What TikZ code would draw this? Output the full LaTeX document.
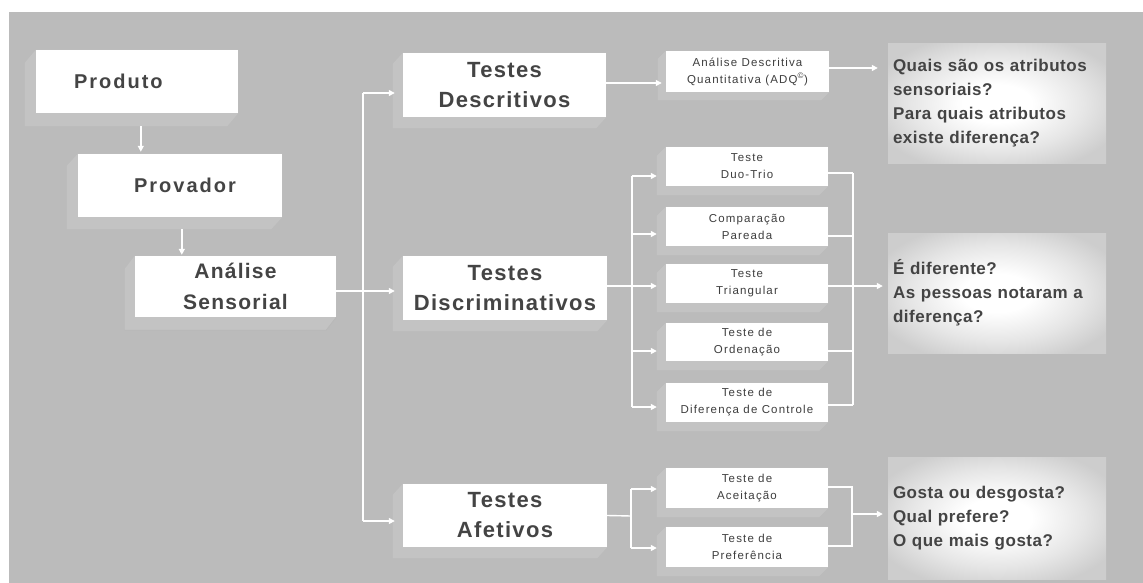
\documentclass[tikz,border=0pt]{standalone}
\usepackage{fontspec}
\setmainfont{Liberation Sans}
\newfontfamily\titlefA[LetterSpace=10]{Liberation Sans}
\newfontfamily\titlefB[LetterSpace=6]{Liberation Sans}
\newfontfamily\smallf[LetterSpace=10]{Liberation Sans}
\newfontfamily\questf[LetterSpace=3]{Liberation Sans}
\usetikzlibrary{arrows.meta,calc}
\definecolor{bgc}{HTML}{BBBBBB}
\definecolor{shadowc}{HTML}{C3C3C3}
\definecolor{txtc}{HTML}{444444}
\definecolor{smtxt}{HTML}{3E3E3E}
\definecolor{qmid}{HTML}{E6E6E6}
\definecolor{qedge}{HTML}{CDCDCD}
\pgfdeclareradialshading{qshade}{\pgfpoint{0bp}{0bp}}{%
  color(0bp)=(white); color(8bp)=(white); color(20bp)=(qmid);
  color(30bp)=(qedge); color(50bp)=(qedge)}
\pgfdeclarelayer{back}
\pgfdeclarelayer{mid}
\pgfsetlayers{back,mid,main}
\newcommand\boxshadow[3]{%
  \begin{pgfonlayer}{mid}
  \fill[shadowc] (#1.north west) -- ++(-#2,#3)
     -- ([xshift=-#2pt,yshift=-#3pt]#1.south west)
     -- ([xshift=-#2pt,yshift=-#3pt]#1.south east)
     -- (#1.south east) -- (#1.north east) -- cycle;
  \end{pgfonlayer}}
\tikzset{
  bigbox/.style={fill=white, draw=none, inner sep=0pt, align=center,
    text=txtc, font=\titlefB\bfseries\fontsize{22}{30}\selectfont},
  smallbox/.style={fill=white, draw=none, inner sep=0pt, align=center,
    text=smtxt, font=\smallf\fontsize{11.5}{17}\selectfont,
    minimum width=162pt},
  qbox/.style={shade, shading=qshade,
    draw=none, inner xsep=5pt, inner ysep=0pt, text width=208pt, align=left,
    minimum width=218pt, text=txtc,
    font=\questf\bfseries\fontsize{17}{24}\selectfont},
  ln/.style={draw=white, line width=1.4pt},
  arr/.style={draw=white, line width=1.4pt, -{Triangle[length=6pt,width=6pt]}}
}
\begin{document}
\begin{tikzpicture}[x=1pt,y=-1pt]
\useasboundingbox (0,0) rectangle (1143,583);
\begin{pgfonlayer}{back}
\fill[white] (0,0) rectangle (1143,583);
\fill[bgc] (9,12) rectangle (1143,583);
\end{pgfonlayer}

% main column
\node[bigbox, font=\titlefA\bfseries\fontsize{20}{28}\selectfont,
  text width=126pt, inner xsep=38pt, align=left, minimum height=63pt]
  (pr) at (137,81.5) {Produto};
\node[bigbox, font=\titlefA\bfseries\fontsize{20}{28}\selectfont,
  minimum width=204pt, minimum height=63pt] (pv) at (180,185.5) {\hspace*{10pt}Provador};
\node[bigbox, font=\titlefB\bfseries\fontsize{21}{31}\selectfont,
  minimum width=201pt, minimum height=61pt] (as) at (235.5,286.5) {Análise\\Sensorial};

% tests
\node[bigbox, minimum width=203pt, minimum height=64pt] (td) at (504.5,85) {Testes\\Descritivos};
\node[bigbox, minimum width=204pt, minimum height=64pt] (tdi) at (505,288) {Testes\\Discriminativos};
\node[bigbox, minimum width=204pt, minimum height=63pt] (ta) at (505,515.5) {Testes\\Afetivos};

% sub boxes
\node[smallbox, minimum width=163pt, minimum height=41pt] (adq) at (747.5,71.5)
  {Análise Descritiva\\Quantitativa (ADQ\textsuperscript{©})};
\node[smallbox, minimum height=39pt] (d1) at (747,166.5) {Teste\\Duo-Trio};
\node[smallbox, minimum height=39pt] (d2) at (747,226.5) {Comparação\\Pareada};
\node[smallbox, minimum height=39pt] (d3) at (747,283.5) {Teste\\Triangular};
\node[smallbox, minimum height=38pt] (d4) at (747,342) {Teste de\\Ordenação};
\node[smallbox, minimum height=39pt] (d5) at (747,402.5) {Teste de\\Diferença de Controle};
\node[smallbox, minimum height=40pt] (a1) at (747,488) {Teste de\\Aceitação};
\node[smallbox, minimum height=40pt] (a2) at (747,547) {Teste de\\Preferência};

% question boxes
\node[qbox, minimum height=119pt] (q1) at (997,103.5)
  {Quais são os atributos\\sensoriais?\\Para quais atributos\\existe diferença?};
\node[qbox, minimum height=120pt] (q2) at (997,293)
  {É diferente?\\As pessoas notaram a\\diferença?};
\node[qbox, minimum height=122pt] (q3) at (997,518)
  {Gosta ou desgosta?\\Qual prefere?\\O que mais gosta?};

% shadows
\boxshadow{pr}{11}{13}
\boxshadow{pv}{11}{12}
\boxshadow{as}{10}{13}
\boxshadow{td}{10}{11}
\boxshadow{tdi}{10}{11}
\boxshadow{ta}{10}{11}
\boxshadow{adq}{8}{8}
\boxshadow{d1}{9}{9}
\boxshadow{d2}{9}{9}
\boxshadow{d3}{9}{9}
\boxshadow{d4}{9}{9}
\boxshadow{d5}{9}{9}
\boxshadow{a1}{9}{9}
\boxshadow{a2}{9}{9}
\begin{pgfonlayer}{mid}
\draw[draw=black!28, line width=0.8pt] ([xshift=-10pt,yshift=-13pt]as.south west) -- ([xshift=-10pt,yshift=-13pt]as.south east) -- (as.south east);
\end{pgfonlayer}

% coordinates of buses
\coordinate (tA) at (363,93);
\coordinate (tB) at (363,291);
\coordinate (tC) at (363,521);
\coordinate (lb1) at (632,176);
\coordinate (lb2) at (632,234);
\coordinate (lb3) at (632,286);
\coordinate (lb4) at (632,351);
\coordinate (lb5) at (632,407);
\coordinate (rb1) at (853,173);
\coordinate (rb2) at (853,236);
\coordinate (rb3) at (853,286);
\coordinate (rb4) at (853,351);
\coordinate (rb5) at (853,405);
\coordinate (la0) at (631,516);
\coordinate (la1) at (631,489);
\coordinate (la2) at (631,548);
\coordinate (ra0) at (852,514);
\coordinate (ra1) at (852,487);
\coordinate (ra2) at (852,546);

% connectors: main column
\draw[arr, shorten >=2pt] ([xshift=105pt,yshift=-13pt]pr.south west) -- ([xshift=63pt]pv.north west);
\draw[arr, shorten >=1pt] ([xshift=104pt,yshift=-12pt]pv.south west) -- ([xshift=47pt]as.north west);
\draw[ln] ([yshift=-4.5pt]as.east) -- (tB);
\draw[ln] (tA) -- (tC);
\draw[arr, shorten >=8pt] (tA) -- (tA -| td.west);
\draw[arr, shorten >=8pt] (tB) -- (tB -| tdi.west);
\draw[arr, shorten >=8pt] (tC) -- (tC -| ta.west);

% descriptive
\draw[arr, shorten >=4pt] ([yshift=2pt]td.east) -- ([yshift=2pt]td.east -| adq.west);
\draw[arr, shorten >=10pt] ([yshift=3.5pt]adq.east) -- ([yshift=3.5pt]adq.east -| q1.west);

% discriminative
\draw[ln] ([yshift=2pt]tdi.east) -- (lb3);
\draw[ln] (lb1) -- (lb5);
\draw[arr, shorten >=9pt] (lb1) -- (lb1 -| d1.west);
\draw[arr, shorten >=9pt] (lb2) -- (lb2 -| d2.west);
\draw[arr, shorten >=9pt] (lb3) -- (lb3 -| d3.west);
\draw[arr, shorten >=9pt] (lb4) -- (lb4 -| d4.west);
\draw[arr, shorten >=9pt] (lb5) -- (lb5 -| d5.west);
\draw[ln] (rb1 -| d1.east) -- (rb1);
\draw[ln] (rb2 -| d2.east) -- (rb2);
\draw[ln] (rb3 -| d3.east) -- (rb3);
\draw[ln] (rb4 -| d4.east) -- (rb4);
\draw[ln] (rb5 -| d5.east) -- (rb5);
\draw[ln] (rb1) -- (rb5);
\draw[arr, shorten >=5pt] (rb3) -- (rb3 -| q2.west);

% affective
\draw[ln] (ta.east) -- (la0);
\draw[ln] (la1) -- (la2);
\draw[arr, shorten >=9pt] (la1) -- (la1 -| a1.west);
\draw[arr, shorten >=9pt] (la2) -- (la2 -| a2.west);
\draw[ln] (ra1 -| a1.east) -- (ra1) -- (ra2) -- (ra2 -| a2.east);
\draw[arr, shorten >=5pt] (ra0) -- (ra0 -| q3.west);
\end{tikzpicture}
\end{document}
